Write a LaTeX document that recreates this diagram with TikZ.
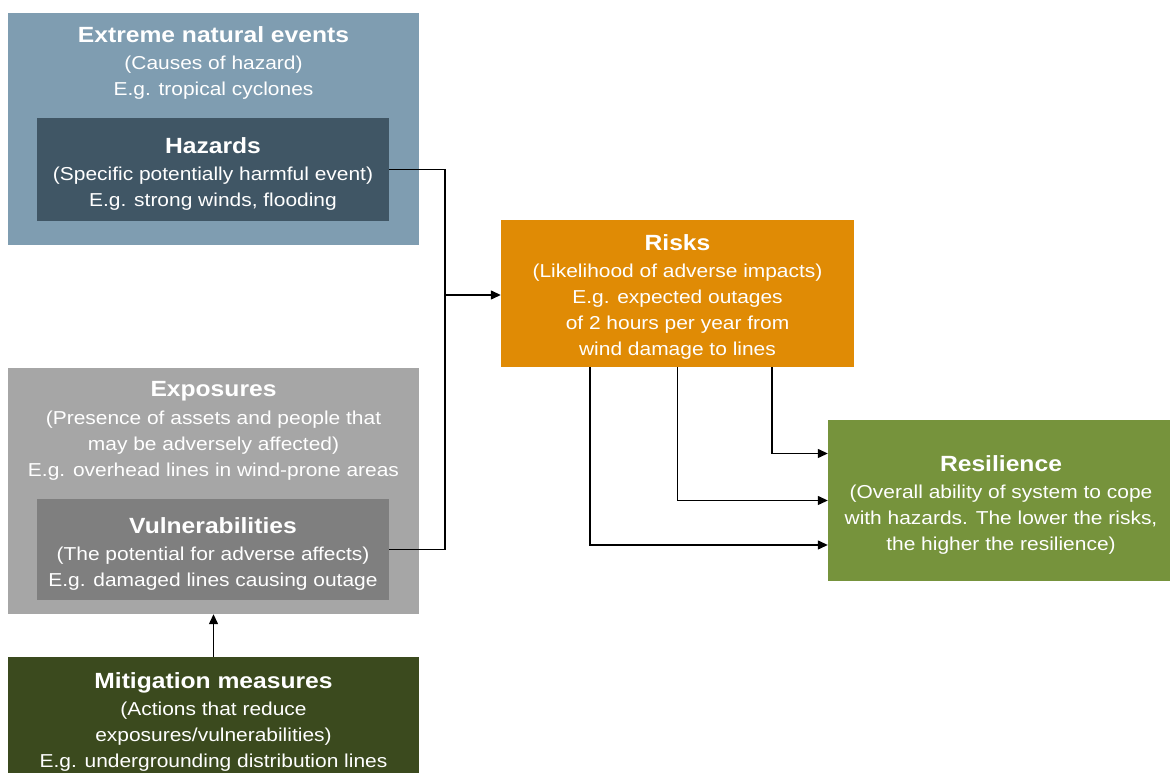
\documentclass[tikz,border=0pt]{standalone}
\usepackage{fontspec}
\setmainfont{Liberation Sans}[FakeStretch=1.12]
\usetikzlibrary{arrows.meta,calc}
\definecolor{cExt}{RGB}{127,157,177}
\definecolor{cHaz}{RGB}{64,86,101}
\definecolor{cExpo}{RGB}{166,166,166}
\definecolor{cVul}{RGB}{127,127,127}
\definecolor{cMit}{RGB}{59,74,30}
\definecolor{cRisk}{RGB}{224,139,5}
\definecolor{cRes}{RGB}{118,147,60}
\newcommand{\myBody}{\fontsize{18.7}{26}\selectfont}
\newcommand{\myTitle}{\fontsize{22}{26}\selectfont\bfseries}
\begin{document}
\begin{tikzpicture}[x=1pt,y=1pt,
  box/.style={rectangle, inner sep=0pt, draw=none},
  txt/.style={align=center, anchor=north, inner sep=0pt, text=white, font=\myBody},
  conn/.style={line width=1.3pt, black},
  arr/.style={conn, -{Triangle[length=10pt,width=9pt]}}]
\useasboundingbox (0,0) rectangle (1170,773);
% boxes
\node[box, fill=cExt, minimum width=411pt, minimum height=232pt] (ext) at (213.5,644) {};
\node[box, fill=cHaz, minimum width=352pt, minimum height=103pt] (haz) at (213,603.5) {};
\node[box, fill=cExpo, minimum width=411pt, minimum height=246pt] (expo) at (213.5,282) {};
\node[box, fill=cVul, minimum width=352pt, minimum height=101pt] (vul) at (213,223.5) {};
\node[box, fill=cMit, minimum width=411pt, minimum height=116pt] (mit) at (213.5,58) {};
\node[box, fill=cRisk, minimum width=353pt, minimum height=147pt] (risk) at (677.5,479.5) {};
\node[box, fill=cRes, minimum width=342pt, minimum height=161pt] (res) at (999,272.5) {};
% texts
\node[txt] (extT) at (213.5,746.7) {{\myTitle Extreme natural events}\\[1.5pt] (Causes of hazard)\\ E.g. tropical cyclones};
\node[txt] (hazT) at (213,635.7) {{\myTitle Hazards}\\[1.5pt] (Specific potentially harmful event)\\ E.g. strong winds, flooding};
\node[txt] (expoT) at (213.5,391.7) {{\myTitle Exposures}\\[1.5pt] (Presence of assets and people that\\ may be adversely affected)\\ E.g. overhead lines in wind-prone areas};
\node[txt] (vulT) at (213,255.7) {{\myTitle Vulnerabilities}\\[1.5pt] (The potential for adverse affects)\\ E.g. damaged lines causing outage};
\node[txt] (mitT) at (213.5,100.7) {{\myTitle Mitigation measures}\\[1.5pt] (Actions that reduce\\ exposures/vulnerabilities)\\ E.g. undergrounding distribution lines};
\node[txt] (riskT) at (677.5,538.7) {{\myTitle Risks}\\[1.5pt] (Likelihood of adverse impacts)\\ E.g. expected outages\\ of 2 hours per year from\\ wind damage to lines};
\node[txt] (resT) at (1001,317.7) {{\myTitle Resilience}\\[1.5pt] (Overall ability of system to cope\\ with hazards. The lower the risks,\\ the higher the resilience)};
% connectors
\coordinate (jn) at (445,478);
\draw[conn] (haz.east) -| (jn);
\draw[conn] (vul.east) -| (jn);
\draw[arr] (jn) -- (jn -| risk.west);
\draw[arr] (mit.north) -- (expo.south);
\draw[arr] ([xshift=94.5pt]risk.south) |- ([yshift=47pt]res.west);
\draw[arr] (risk.south) |- (res.west);
\draw[arr] ([xshift=-87.5pt]risk.south) |- ([yshift=-44.5pt]res.west);
\end{tikzpicture}
\end{document}
